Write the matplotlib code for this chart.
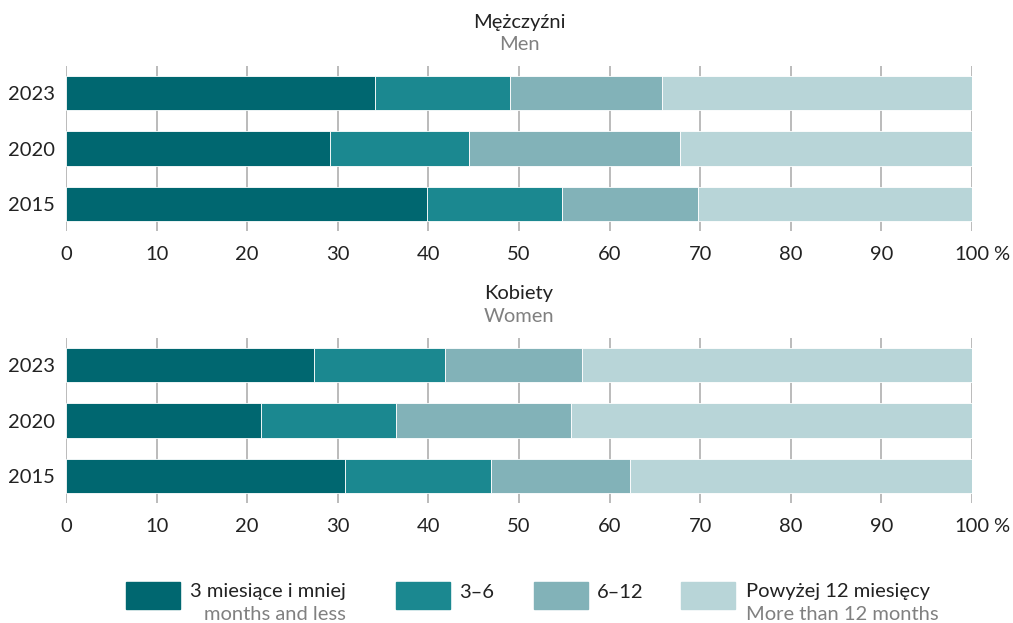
import matplotlib.pyplot as plt
from matplotlib.patches import Rectangle

# data (shares in %)
years = ['2015', '2020', '2023']
categories = ['3 miesiące i mniej', '3–6', '6–12', 'Powyżej 12 miesięcy']
categories_en = ['months and less', '', '', 'More than 12 months']

men_3 = [39.8, 29.1, 34.1]
men_3_6 = [14.9, 15.4, 14.9]
men_6_12 = [15.1, 23.3, 16.8]
men_12 = [30.2, 32.2, 34.2]

women_3 = [30.8, 21.5, 27.4]
women_3_6 = [16.1, 14.9, 14.4]
women_6_12 = [15.4, 19.3, 15.2]
women_12 = [37.7, 44.3, 43.0]

colors = ['#006770', '#1b8890', '#82b2b8', '#b8d5d8']

plt.rcParams['font.family'] = ['Lato', 'DejaVu Sans']
FS = 14.5

fig = plt.figure(figsize=(10.13, 6.23), dpi=100)

panels = [
    ([0.0652, 0.629, 0.8943, 0.265], 'Mężczyźni', 'Men', [men_3, men_3_6, men_6_12, men_12], 1.265, 1.13),
    ([0.0652, 0.193, 0.8943, 0.264], 'Kobiety', 'Women', [women_3, women_3_6, women_6_12, women_12], 1.27, 1.13),
]

for rect, title_pl, title_en, series, y_pl, y_en in panels:
    ax = fig.add_axes(rect)
    left = [0, 0, 0]
    for vals, c in zip(series, colors):
        ax.barh(range(len(years)), vals, left=left, height=0.62, color=c,
                edgecolor='white', linewidth=0.6, zorder=3)
        left = [a + b for a, b in zip(left, vals)]
    ax.set_xlim(0, 100)
    ax.set_ylim(-0.49, 2.49)
    ax.set_xticks(range(0, 101, 10))
    ax.set_xticklabels([str(v) for v in range(0, 101, 10)])
    ax.set_yticks(range(len(years)))
    ax.set_yticklabels(years)
    ax.grid(axis='x', color='#a8a8a8', linewidth=1.1, zorder=0)
    ax.tick_params(length=0, labelsize=FS, colors='#222222')
    ax.tick_params(axis='x', pad=11)
    ax.tick_params(axis='y', pad=8)
    for s in ax.spines.values():
        s.set_visible(False)
    # percent sign after the last tick label
    ax.annotate('%', xy=(100, 0), xycoords=('data', 'axes fraction'),
                xytext=(15.5, -11), textcoords='offset points', ha='left', va='top',
                fontsize=FS, color='#222222')
    ax.text(0.5, y_pl, title_pl, transform=ax.transAxes, ha='center', va='center',
            fontsize=FS, color='#222222')
    ax.text(0.5, y_en, title_en, transform=ax.transAxes, ha='center', va='center',
            fontsize=FS, color='#808080')

# legend drawn along the bottom
W, H = 1013, 623
patch_x = [126, 396, 534, 681]
text_x = [190, 459, 597, 746]
for px, tx, c, lab, lab_en in zip(patch_x, text_x, colors, categories, categories_en):
    fig.patches.append(Rectangle((px / W, 1 - 609 / H), 54 / W, 27 / H,
                                 transform=fig.transFigure, color=c))
    fig.text(tx / W, 1 - 592 / H, lab, ha='left', va='center', fontsize=FS, color='#222222')
    if lab_en:
        x_en = 204 if lab_en.startswith('months') else tx
        fig.text(x_en / W, 1 - 614 / H, lab_en, ha='left', va='center', fontsize=FS,
                 color='#808080')

fig.savefig('out.png', dpi=100)
